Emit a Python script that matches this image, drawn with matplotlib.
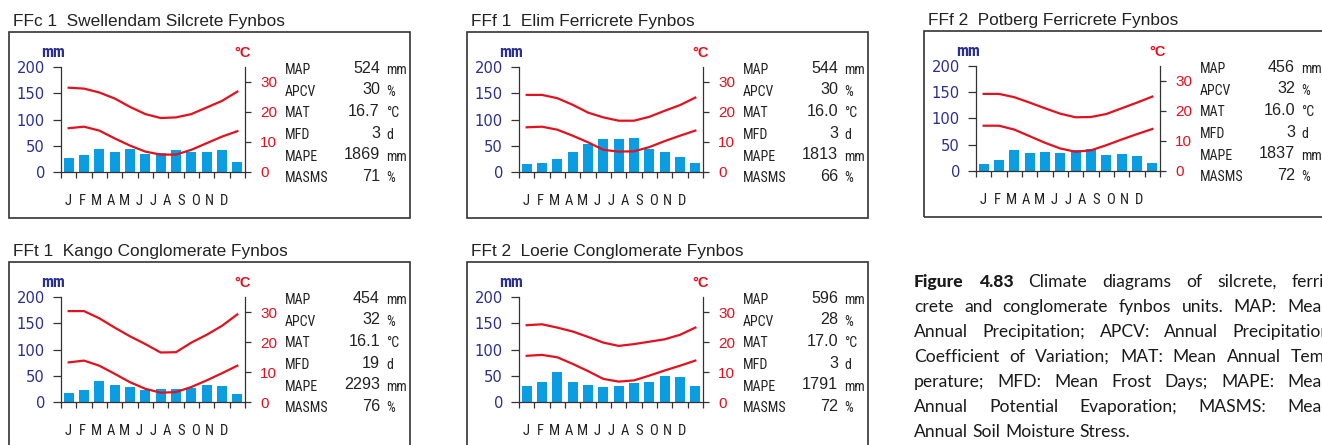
import matplotlib
matplotlib.use("Agg")
import logging
logging.getLogger("matplotlib.font_manager").setLevel(logging.ERROR)
import matplotlib.pyplot as plt
from matplotlib.patches import Rectangle
import numpy as np

# ---------------- data ----------------
months = ["J", "F", "M", "A", "M", "J", "J", "A", "S", "O", "N", "D"]
stat_names = ["MAP", "APCV", "MAT", "MFD", "MAPE", "MASMS"]
stat_units = ["mm", "%", "°C", "d", "mm", "%"]
rain_ticks = [0, 50, 100, 150, 200]
temp_ticks = [0, 10, 20, 30]

title_ffc1 = "FFc 1  Swellendam Silcrete Fynbos"
rain_ffc1 = [26.7, 31.7, 43, 38, 43, 34, 35.5, 41, 38, 39, 41, 20]
tmax_ffc1 = [28.1, 27.8, 26.5, 24.5, 21.7, 19.3, 18.0, 18.2, 19.3, 21.5, 23.7, 26.8]
tmin_ffc1 = [14.6, 15.1, 13.8, 11.2, 8.8, 6.8, 5.8, 5.8, 7.4, 9.6, 11.8, 13.6]
stats_ffc1 = ["524", "30", "16.7", "3", "1869", "71"]

title_fff1 = "FFf 1  Elim Ferricrete Fynbos"
rain_fff1 = [14.6, 16.5, 24, 37.5, 52.7, 62.2, 62.2, 64.8, 43.2, 37.5, 28, 16.5]
tmax_fff1 = [25.7, 25.7, 24.6, 22.4, 19.8, 18.2, 17.1, 17.1, 18.4, 20.4, 22.3, 24.8]
tmin_fff1 = [14.9, 15.1, 14.1, 12.1, 9.9, 7.4, 6.8, 6.9, 8.3, 10.3, 12.1, 13.8]
stats_fff1 = ["544", "30", "16.0", "3", "1813", "66"]

title_fff2 = "FFf 2  Potberg Ferricrete Fynbos"
rain_fff2 = [13.3, 21, 40, 34.3, 36.2, 34.3, 39.4, 41.3, 30.5, 32.4, 28.6, 15.2]
tmax_fff2 = [25.7, 25.7, 24.6, 22.8, 20.9, 19.1, 17.9, 18.0, 19.0, 20.9, 22.8, 24.8]
tmin_fff2 = [15.1, 15.1, 13.8, 11.6, 9.4, 7.5, 6.4, 6.9, 8.6, 10.5, 12.3, 14.0]
stats_fff2 = ["456", "32", "16.0", "3", "1837", "72"]

title_fft1 = "FFt 1  Kango Conglomerate Fynbos"
rain_fft1 = [16.5, 22.2, 39.4, 31.7, 28, 22.2, 24.1, 24.1, 26.7, 31.7, 30.5, 14.6]
tmax_fft1 = [30.3, 30.3, 27.9, 24.8, 21.9, 19.3, 16.5, 16.6, 19.8, 22.4, 25.4, 29.2]
tmin_fft1 = [13.2, 13.8, 12.1, 9.4, 6.6, 4.4, 3.1, 3.3, 5.0, 7.2, 9.6, 12.1]
stats_fft1 = ["454", "32", "16.1", "19", "2293", "76"]

title_fft2 = "FFt 2  Loerie Conglomerate Fynbos"
rain_fft2 = [29.8, 37.5, 56.5, 37.5, 31.7, 28, 29.8, 35.6, 37.5, 48.9, 47, 29.8]
tmax_fft2 = [25.6, 25.9, 24.8, 23.5, 21.7, 19.8, 18.7, 19.3, 20.1, 20.9, 22.4, 24.8]
tmin_fft2 = [15.4, 15.7, 14.9, 12.7, 10.3, 7.7, 6.8, 7.2, 8.8, 10.5, 12.1, 13.8]
stats_fft2 = ["596", "28", "17.0", "3", "1791", "72"]

caption_bold = "Figure 4.83"
caption_lines = [
    "Climate diagrams of silcrete, ferri-",
    "crete and conglomerate fynbos units.  MAP: Mean",
    "Annual Precipitation; APCV: Annual Precipitation",
    "Coefficient of Variation; MAT: Mean Annual Tem-",
    "perature; MFD: Mean Frost Days; MAPE: Mean",
    "Annual Potential Evaporation; MASMS: Mean",
    "Annual Soil Moisture Stress.",
]

# ---------------- style ----------------
W, H = 1322, 445
BLUE = "#0a9de2"
RED = "#e3101e"
NAVY = "#2b2f8e"
DARK = "#333333"
INK = "#222222"
SANS = ["Liberation Sans", "DejaVu Sans"]
WIDE = ["DejaVu Sans"]
NARROW = ["Liberation Sans Narrow", "Arial Narrow", "Roboto Condensed",
          "Archivo Narrow", "PT Sans Narrow", "Fira Sans Condensed",
          "Liberation Sans", "DejaVu Sans"]
CAP = ["Lato", "DejaVu Sans"]

fig = plt.figure(figsize=(W / 100, H / 100), dpi=100)
fig.patch.set_facecolor("white")


def fx(x):
    return x / W


def fy(y):
    return 1 - y / H


def panel(bx, by, title, rain, tmax, tmin, stats):
    fig.patches.append(Rectangle((fx(bx), fy(by + 186)), 401 / W, 186 / H,
                                 transform=fig.transFigure, fill=False,
                                 edgecolor=DARK, linewidth=1.2))
    fig.text(fx(bx + 4), fy(by - 6), title, fontsize=12.4, family=SANS,
             color=INK, va="baseline", ha="left")

    ax = fig.add_axes([fx(bx + 52), fy(by + 140), 184 / W, 105 / H])
    x = np.arange(12) + 0.5
    ax.bar(x, rain, width=0.64, color=BLUE, zorder=2)
    ax.set_xlim(0, 12)
    ax.set_ylim(0, 200)
    ax.set_yticks(rain_ticks)
    ax.set_xticks(np.arange(13))
    ax.tick_params(axis="x", direction="out", length=4.5, width=0.9,
                   color=DARK, labelbottom=False)
    ax.tick_params(axis="y", direction="out", length=5.5, width=0.9, color=DARK,
                   labelcolor=NAVY, labelsize=10.6, pad=6)
    for lab in ax.get_yticklabels():
        lab.set_family(WIDE)
    for s in ["top", "right"]:
        ax.spines[s].set_visible(False)
    for s in ["left", "bottom"]:
        ax.spines[s].set_color(DARK)
        ax.spines[s].set_linewidth(0.9)
    ax.patch.set_visible(False)

    for i, m in enumerate(months):
        ax.text(0.48 + 0.92 * i, -63, m, ha="center", va="baseline",
                fontsize=10.5, family=NARROW, color=INK, clip_on=False)

    ax2 = ax.twinx()
    ax2.set_ylim(0, 35)
    ax2.plot(x, tmax, color=RED, lw=1.6, solid_joinstyle="round")
    ax2.plot(x, tmin, color=RED, lw=1.6, solid_joinstyle="round")
    ax2.set_yticks(temp_ticks)
    ax2.tick_params(axis="y", direction="out", length=4, width=0.9, color=DARK,
                    labelcolor=RED, labelsize=11, pad=7)
    for lab in ax2.get_yticklabels():
        lab.set_family(SANS)
    for s in ["top", "left", "bottom"]:
        ax2.spines[s].set_visible(False)
    ax2.spines["right"].set_color(DARK)
    ax2.spines["right"].set_linewidth(0.9)

    fig.text(fx(bx + 44), fy(by + 24.7), "mm", fontsize=11.5, fontweight="bold",
             family=NARROW, color=NAVY, ha="center", va="baseline")
    fig.text(fx(bx + 234), fy(by + 24.7), "°C", fontsize=10.5, fontweight="bold",
             family=SANS, color=RED, ha="center", va="baseline")

    for k in range(6):
        yb = by + 42 + 21.66 * k
        fig.text(fx(bx + 276), fy(yb), stat_names[k], fontsize=10,
                 family=NARROW, color=INK, ha="left", va="baseline")
        fig.text(fx(bx + 371), fy(yb - 1.3), stats[k], fontsize=11.6,
                 family=SANS, color=INK, ha="right", va="baseline")
        fig.text(fx(bx + 377), fy(yb), stat_units[k], fontsize=10,
                 family=NARROW, color=INK, ha="left", va="baseline")


panel(9, 32, title_ffc1, rain_ffc1, tmax_ffc1, tmin_ffc1, stats_ffc1)
panel(467, 32, title_fff1, rain_fff1, tmax_fff1, tmin_fff1, stats_fff1)
panel(924, 31, title_fff2, rain_fff2, tmax_fff2, tmin_fff2, stats_fff2)
panel(9, 262, title_fft1, rain_fft1, tmax_fft1, tmin_fft1, stats_fft1)
panel(467, 262, title_fft2, rain_fft2, tmax_fft2, tmin_fft2, stats_fft2)

# ---------------- caption (justified) ----------------
CAP_SIZE = 12.6
X0, X1 = 914, 1331
renderer = fig.canvas.get_renderer()


def place_line(words, ybase, justify):
    objs = []
    for w, bold in words:
        t = fig.text(0, fy(ybase), w, fontsize=CAP_SIZE,
                     fontweight=900 if bold else "normal", family=CAP,
                     color="#1a1a1a", ha="left", va="baseline")
        objs.append(t)
    widths = [o.get_window_extent(renderer).width for o in objs]
    space = 0.26 * CAP_SIZE * 100 / 72
    if justify and len(objs) > 1:
        gap = max((X1 - X0 - sum(widths)) / (len(objs) - 1), space * 0.8)
    else:
        gap = space
    xpos = X0
    for o, w in zip(objs, widths):
        o.set_x(fx(xpos))
        xpos += w + gap


for i, line in enumerate(caption_lines):
    words = [(w, False) for w in line.split()]
    if i == 0:
        words = [(w, True) for w in caption_bold.split()] + words
    place_line(words, 287 + 25 * i, justify=(i < len(caption_lines) - 1))

fig.savefig("out.png", dpi=100, facecolor="white")
